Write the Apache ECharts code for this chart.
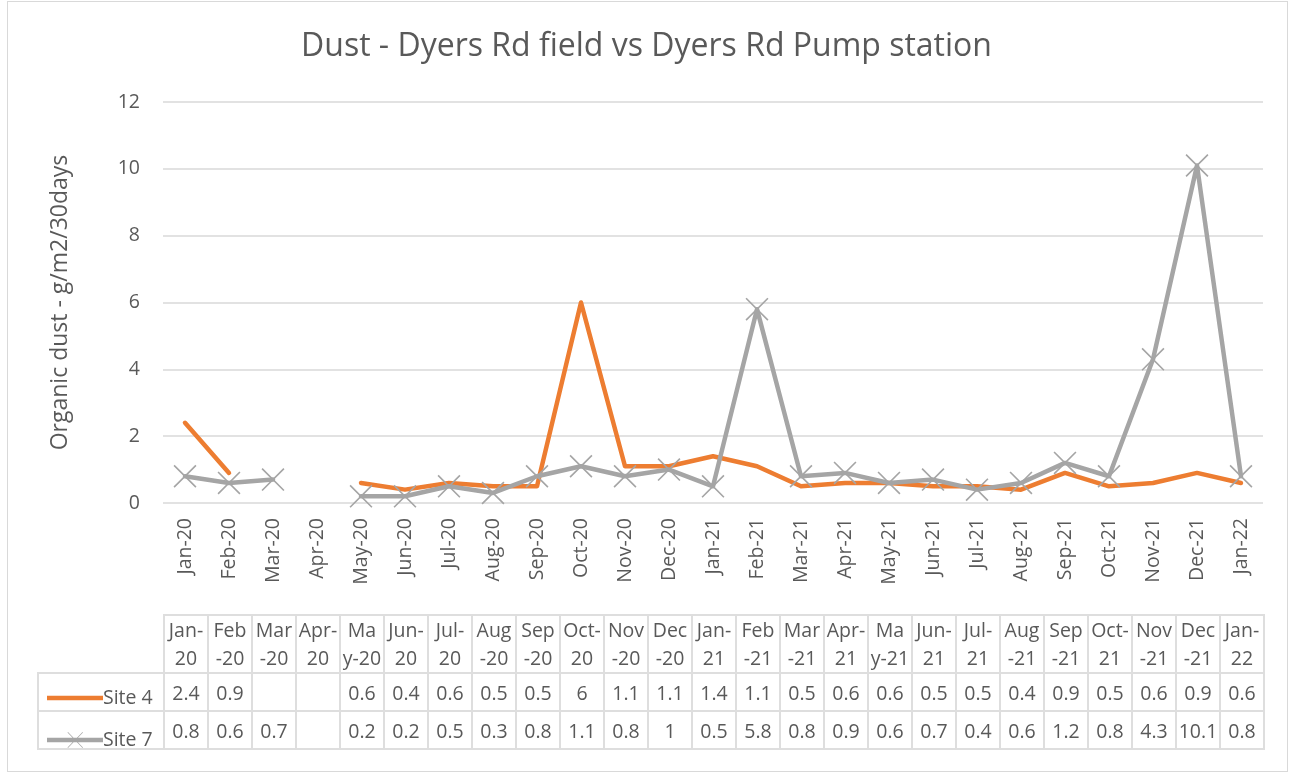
<!DOCTYPE html>
<html>
<head>
<meta charset="utf-8">
<script src="https://cdn.jsdelivr.net/npm/echarts@6/dist/echarts.min.js"></script>
<style>
  html, body { margin: 0; padding: 0; background: #fff; }
  #frame {
    position: absolute; left: 7px; top: 1px; width: 1281px; height: 771px;
    border: 1px solid #d9d9d9; box-sizing: border-box;
  }
  #chart { position: absolute; left: 0; top: 0; width: 1293px; height: 776px; }
  #table {
    position: absolute; left: 37px; top: 614px;
    border-collapse: collapse; table-layout: fixed;
    font-family: 'Open Sans', sans-serif; color: #595959; font-size: 19.5px;
  }
  #table td {
    border: 2px solid #dedede; text-align: center; padding: 0;
    white-space: pre; overflow: hidden;
  }
  #table tr.head td { height: 55px; line-height: 28px; }
  #table tr.row td { height: 36px; }
  #table td.blank { border: none; }
</style>
</head>
<body>
<div id="frame"></div>
<div id="chart"></div>
<table id="table"></table>
<script>
const categories = ['Jan-20', 'Feb-20', 'Mar-20', 'Apr-20', 'May-20', 'Jun-20', 'Jul-20', 'Aug-20',
  'Sep-20', 'Oct-20', 'Nov-20', 'Dec-20', 'Jan-21', 'Feb-21', 'Mar-21', 'Apr-21', 'May-21',
  'Jun-21', 'Jul-21', 'Aug-21', 'Sep-21', 'Oct-21', 'Nov-21', 'Dec-21', 'Jan-22']
// header labels as wrapped in the data table
const tableLabels = ['Jan-\n20', 'Feb\n-20', 'Mar\n-20', 'Apr-\n20', 'Ma\ny-20', 'Jun-\n20', 'Jul-\n20',
  'Aug\n-20', 'Sep\n-20', 'Oct-\n20', 'Nov\n-20', 'Dec\n-20', 'Jan-\n21', 'Feb\n-21', 'Mar\n-21',
  'Apr-\n21', 'Ma\ny-21', 'Jun-\n21', 'Jul-\n21', 'Aug\n-21', 'Sep\n-21', 'Oct-\n21', 'Nov\n-21',
  'Dec\n-21', 'Jan-\n22']
const site4 = [2.4, 0.9, null, null, 0.6, 0.4, 0.6, 0.5, 0.5, 6, 1.1, 1.1, 1.4, 1.1, 0.5, 0.6, 0.6,
  0.5, 0.5, 0.4, 0.9, 0.5, 0.6, 0.9, 0.6]
const site7 = [0.8, 0.6, 0.7, null, 0.2, 0.2, 0.5, 0.3, 0.8, 1.1, 0.8, 1, 0.5, 5.8, 0.8, 0.9, 0.6,
  0.7, 0.4, 0.6, 1.2, 0.8, 4.3, 10.1, 0.8]

const gridLeft = 163
const gridRight = 30
const plotWidth = 1293 - gridLeft - gridRight
const legendColWidth = 126

const orange = '#ED7D31'
const grey = '#A5A5A5'
const textColor = '#595959'
const font = 'Open Sans'
const crossPath = 'path://M0,0.5L0.5,0L10,9.5L9.5,10Z M9.5,0L10,0.5L0.5,10L0,9.5Z'
// legend icons: thick line, and thick line with a cross (tiny corner dots keep the box 56x16)
const corners = ' M0,0L0.01,0L0,0.01Z M56,16L55.99,16L56,15.99Z'
const lineIcon = 'path://M0,5.7L56,5.7L56,10.3L0,10.3Z' + corners
const crossIcon = 'path://M0,5.7L56,5.7L56,10.3L0,10.3Z M20.5,0.5L21,0L36,15.5L35.5,16Z M35.5,0L36,0.5L21,16L20.5,15.5Z' + corners

// data table under the plot
const table = document.getElementById('table')
const colW = plotWidth / categories.length
let html = '<colgroup><col style="width:' + legendColWidth + 'px">'
categories.forEach(() => { html += '<col style="width:' + colW + 'px">' })
html += '</colgroup><tr class="head"><td class="blank"></td>'
tableLabels.forEach(l => { html += '<td>' + l + '</td>' })
html += '</tr>'
;[site4, site7].forEach(s => {
  html += '<tr class="row"><td></td>'
  s.forEach(v => { html += '<td>' + (v === null ? '' : v) + '</td>' })
  html += '</tr>'
})
table.innerHTML = html
table.style.width = (legendColWidth + plotWidth) + 'px'

const chart = echarts.init(document.getElementById('chart'))

const option = {
  animation: false,
  title: {
    text: 'Dust - Dyers Rd field vs Dyers Rd Pump station',
    left: 'center',
    top: 26,
    textStyle: { color: textColor, fontSize: 32, fontWeight: 'normal', fontFamily: font }
  },
  legend: {
    orient: 'vertical',
    left: 42,
    top: 683,
    itemWidth: 56,
    itemHeight: 16,
    itemGap: 22,
    textStyle: { color: textColor, fontSize: 19.5, fontFamily: font, padding: [0, 0, 0, -5] },
    data: [
      { name: 'Site 4', icon: lineIcon },
      { name: 'Site 7', icon: crossIcon }
    ]
  },
  grid: { left: gridLeft, right: gridRight, top: 102, bottom: 273 },
  xAxis: {
    type: 'category',
    data: categories,
    boundaryGap: true,
    axisLine: { show: false },
    axisTick: { show: false },
    axisLabel: {
      interval: 0, rotate: 90, color: textColor, fontSize: 19.5, fontFamily: font, margin: 15
    }
  },
  yAxis: {
    type: 'value',
    min: 0,
    max: 12,
    interval: 2,
    name: 'Organic dust - g/m2/30days',
    nameLocation: 'middle',
    nameGap: 91,
    nameTextStyle: { color: textColor, fontSize: 23, fontFamily: font },
    axisLine: { show: false },
    axisTick: { show: false },
    axisLabel: { color: textColor, fontSize: 19.5, fontFamily: font, margin: 23 },
    splitLine: { lineStyle: { color: '#d9d9d9', width: 1.5 } }
  },
  series: [
    {
      name: 'Site 4',
      type: 'line',
      data: site4,
      symbol: 'none',
      connectNulls: false,
      lineStyle: { color: orange, width: 4.5, cap: 'round', join: 'round' },
      itemStyle: { color: orange }
    },
    {
      name: 'Site 7',
      type: 'line',
      data: site7,
      symbol: crossPath,
      symbolSize: 23,
      showAllSymbol: true,
      connectNulls: false,
      lineStyle: { color: grey, width: 4.5, cap: 'round', join: 'round' },
      itemStyle: { color: grey }
    }
  ]
}

chart.setOption(option)

window.addEventListener('resize', () => chart.resize())
</script>
</body>
</html>
